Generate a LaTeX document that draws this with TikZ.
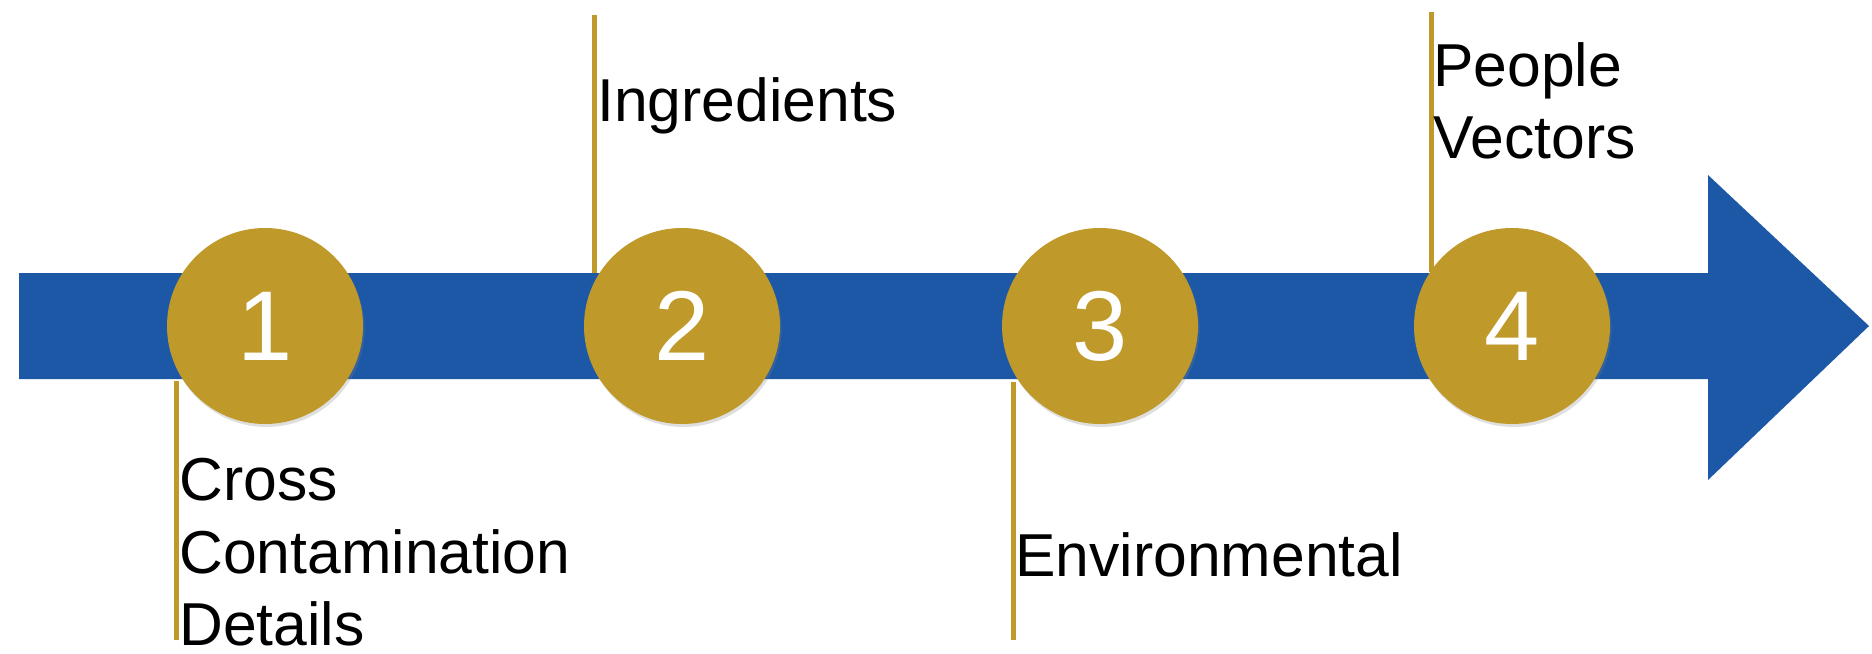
\documentclass[tikz,border=0pt]{standalone}
\usepackage{fontspec}
\setmainfont{Liberation Sans}
\usetikzlibrary{shadows}
\definecolor{barblue}{RGB}{29,88,166}
\definecolor{gold}{RGB}{191,154,42}
\begin{document}
\begin{tikzpicture}[x=0.5pt,y=-0.5pt,
  stepcircle/.style={circle,fill=gold,minimum size=98pt,inner sep=0pt,text=white,
    font={\fontsize{49.6pt}{56pt}\selectfont},
    drop shadow={opacity=0.25,shadow xshift=0.8pt,shadow yshift=-1.5pt}},
  tick/.style={draw=gold,line width=2.5pt},
  lbl/.style={inner sep=0pt,align=left,text=black,font={\fontsize{30.3pt}{36.25pt}\selectfont}}]
\useasboundingbox (0,0) rectangle (1872,653);
% arrow
\fill[barblue] (19,273) -- (1708,273) -- (1708,175) -- (1869,326) -- (1708,480) -- (1708,379) -- (19,379) -- cycle;
% tick lines
\coordinate (l1a) at (176,381); \coordinate (l1b) at (176,640);
\coordinate (l2a) at (594,15);  \coordinate (l2b) at (594,273);
\coordinate (l3a) at (1013,382); \coordinate (l3b) at (1013,640);
\coordinate (l4a) at (1431,12); \coordinate (l4b) at (1431,272);
\draw[tick] (l1a) -- (l1b);
\draw[tick] (l2a) -- (l2b);
\draw[tick] (l3a) -- (l3b);
\draw[tick] (l4a) -- (l4b);
% circles
\node[stepcircle] (c1) at (265,326) {1};
\node[stepcircle] (c2) at (682,326) {2};
\node[stepcircle] (c3) at (1100,326) {3};
\node[stepcircle] (c4) at (1512,326) {4};
% labels
\node[lbl,anchor=north west] (t1) at (179,458) {Cross\\Contamination\\Details};
\node[lbl,anchor=base west] (t2) at (597,121) {Ingredients};
\node[lbl,anchor=base west] (t3) at (1015,576) {Environmental};
\node[lbl,anchor=north west] (t4) at (1433,42) {People\\Vectors};
\end{tikzpicture}
\end{document}
